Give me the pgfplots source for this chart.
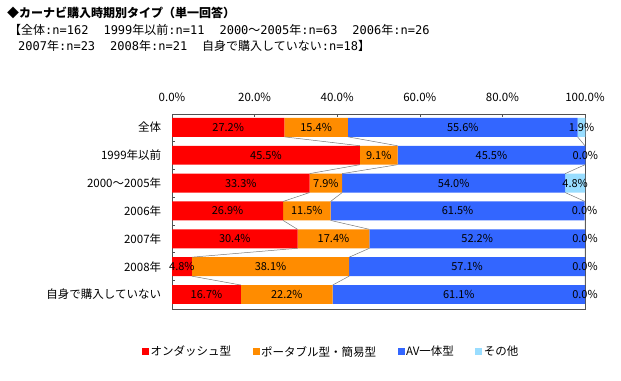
\documentclass[border=0pt]{standalone}
\usepackage{fontspec}
\setmainfont{Noto Sans CJK JP}
\newfontfamily\hwf{DejaVu Sans Mono}
\usepackage{pgfplots}
\pgfplotsset{compat=1.18}
\usepackage{pgfplotstable}
\definecolor{cRed}{RGB}{255,0,0}
\definecolor{cOrange}{RGB}{255,140,0}
\definecolor{cBlue}{RGB}{51,102,255}
\definecolor{cLight}{RGB}{153,221,255}
\definecolor{frameC}{RGB}{80,80,80}
\definecolor{serC}{RGB}{120,120,120}
\newcommand{\hw}[1]{{\hwf\fontsize{12bp}{14bp}\selectfont #1}}
\newcommand{\gap}{\hspace{15bp}}
\pgfplotstableread{
y a b c d
6 27.2 15.4 55.6 1.9
5 45.5 9.1 45.5 0.0
4 33.3 7.9 54.0 4.8
3 26.9 11.5 61.5 0.0
2 30.4 17.4 52.2 0.0
1 4.8 38.1 57.1 0.0
0 16.7 22.2 61.1 0.0
}\data
\pgfplotsset{
  geom/.style={at={(172bp,72bp)}, anchor=south west,
    width=413bp, height=195bp, scale only axis,
    xmin=0, xmax=100, ymin=-0.52, ymax=6.48, clip=false},
  sq/.style={legend image code/.code={\fill[##1,draw=none] (0bp,-3.5bp) rectangle (7bp,3.5bp);}},
  lbl/.style={sharp plot, draw=none, mark=none,
    point meta=explicit,
    nodes near coords={\pgfmathprintnumber[fixed,fixed zerofill,precision=1,assume math mode=true]{\pgfplotspointmeta}\%},
    every node near coord/.append style={anchor=center, text=black, inner sep=0pt, font=\fontsize{11bp}{13bp}\selectfont}},
  serl/.style={forget plot, stack plots=false, sharp plot, draw=serC, line width=0.5bp, mark=none, unbounded coords=jump},
}
\begin{document}
\fontsize{11bp}{13bp}\selectfont
\begin{tikzpicture}[font=\fontsize{11.5bp}{13bp}\selectfont]
\useasboundingbox (0,0) rectangle (621bp,381bp);
\node[anchor=west, inner sep=0pt, font=\fontsize{12bp}{14bp}\selectfont\bfseries] at (7bp,368bp) {◆カーナビ購入時期別タイプ（単一回答）};
\node[anchor=west, inner sep=0pt, font=\fontsize{12bp}{14bp}\selectfont] at (9bp,351bp) {【全体\hw{:n=162}\gap\hw{1999}年以前\hw{:n=11}\gap\hw{2000}～\hw{2005}年\hw{:n=63}\gap\hw{2006}年\hw{:n=26}};
\node[anchor=west, inner sep=0pt, font=\fontsize{12bp}{14bp}\selectfont] at (18bp,335bp) {\hw{2007}年\hw{:n=23}\gap\hw{2008}年\hw{:n=21}\gap 自身で購入していない\hw{:n=18}】};
\begin{axis}[
  geom,
  xbar stacked, bar width=0.68,
  axis line style={draw=frameC, line width=0.8bp},
  tick style={draw=frameC, line width=0.6bp},
  tick align=inside,
  major tick length=3bp,
  xtick pos=upper, xticklabel pos=upper,
  ytick pos=left,
  xtick={0,20,40,60,80,100},
  xticklabels={0.0\%,20.0\%,40.0\%,60.0\%,80.0\%,100.0\%},
  x tick label style={yshift=8bp},
  ytick={0.5,1.5,2.5,3.5,4.5,5.5}, yticklabels={},
  extra y ticks={0,1,2,3,4,5,6},
  extra y tick labels={自身で購入していない,2008年,2007年,2006年,2000～2005年,1999年以前,全体},
  extra y tick style={major tick length=0pt, yticklabel style={xshift=-7bp}},
  legend style={at={(axis description cs:0.385,-0.22)}, anchor=center, draw=none, fill=none,
    legend columns=4, font=\fontsize{11.5bp}{13bp}\selectfont,
    /tikz/every even column/.append style={column sep=20bp},
    nodes={inner sep=1.5bp}},
]
% series lines
\addplot[serl] coordinates {(27.2,5.66) (45.5,5.34) (nan,nan) (45.5,4.66) (33.3,4.34) (nan,nan) (33.3,3.66) (26.9,3.34) (nan,nan) (26.9,2.66) (30.4,2.34) (nan,nan) (30.4,1.66) (4.8,1.34) (nan,nan) (4.8,0.66) (16.7,0.34)};
\addplot[serl] coordinates {(42.6,5.66) (54.6,5.34) (nan,nan) (54.6,4.66) (41.2,4.34) (nan,nan) (41.2,3.66) (38.4,3.34) (nan,nan) (38.4,2.66) (47.8,2.34) (nan,nan) (47.8,1.66) (42.9,1.34) (nan,nan) (42.9,0.66) (38.9,0.34)};
\addplot[serl] coordinates {(98.2,5.66) (100,5.34) (nan,nan) (100,4.66) (95.2,4.34) (nan,nan) (95.2,3.66) (100,3.34) (nan,nan) (100,2.66) (100,2.34) (nan,nan) (100,1.66) (100,1.34) (nan,nan) (100,0.66) (100,0.34)};
% bars
\addplot[fill=cRed, draw=none, sq] table[x=a, y=y] {\data};
\addplot[fill=cOrange, draw=none, sq] table[x=b, y=y] {\data};
\addplot[fill=cBlue, draw=none, sq] table[x=c, y=y] {\data};
\addplot[fill=cLight, draw=none, sq] table[x=d, y=y] {\data};
\legend{オンダッシュ型,ポータブル型・簡易型,AV一体型,その他}
\end{axis}
\begin{axis}[geom, hide axis]
\addplot[lbl] table[x expr=\thisrow{a}/2, y=y, meta=a] {\data};
\addplot[lbl] table[x expr=\thisrow{a}+\thisrow{b}/2, y=y, meta=b] {\data};
\addplot[lbl] table[x expr=\thisrow{a}+\thisrow{b}+\thisrow{c}/2, y=y, meta=c] {\data};
\addplot[lbl] table[x expr=\thisrow{a}+\thisrow{b}+\thisrow{c}+\thisrow{d}/2, y=y, meta=d] {\data};
\end{axis}
\end{tikzpicture}
\end{document}
